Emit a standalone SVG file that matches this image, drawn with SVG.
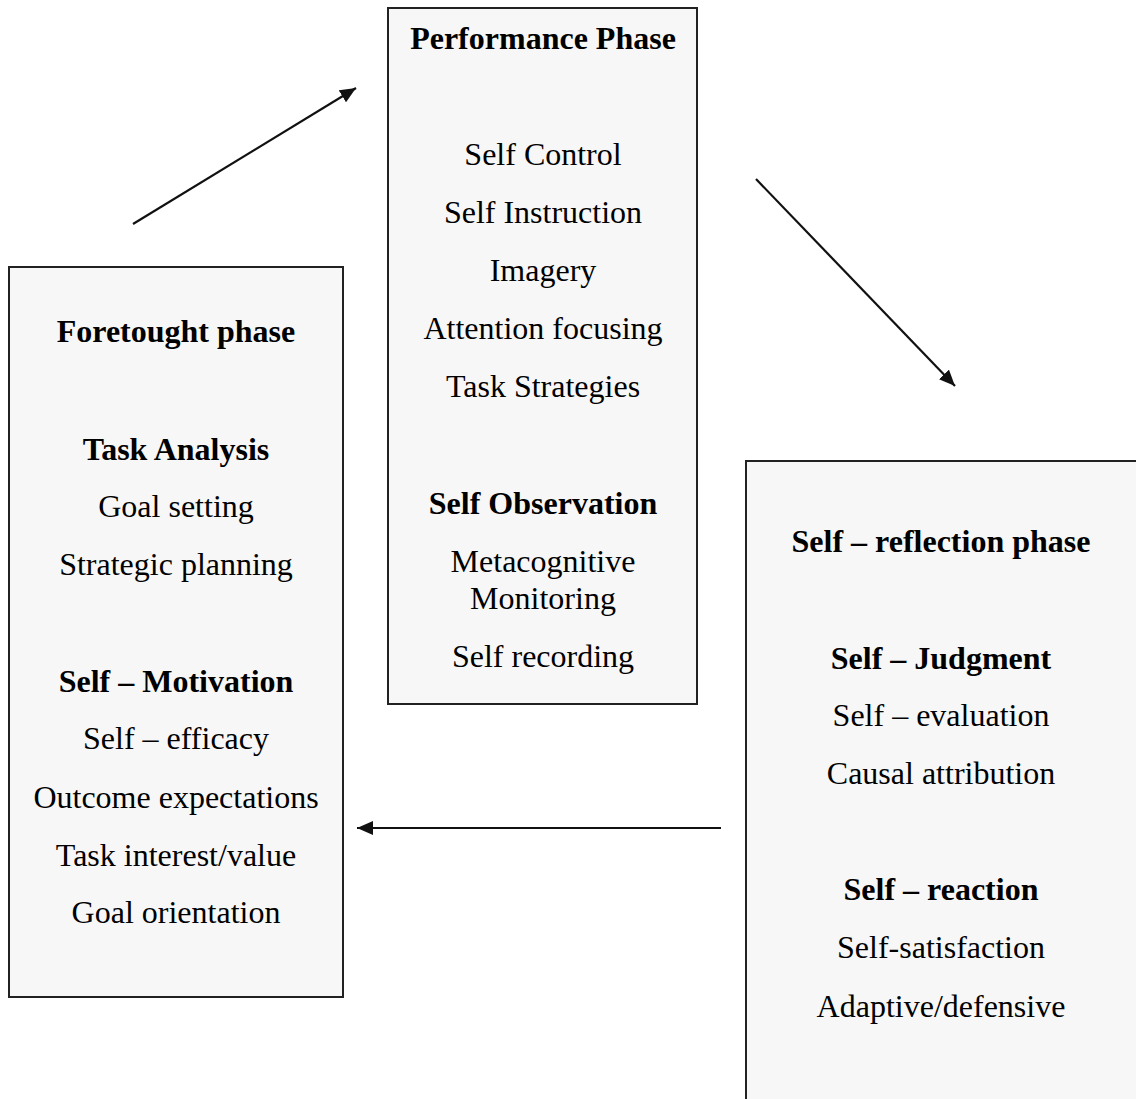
<svg xmlns="http://www.w3.org/2000/svg" width="1136" height="1099" viewBox="0 0 1136 1099">
<defs>
<style>
.box{fill:#f7f7f7;stroke:#222;stroke-width:2}
text{font-family:"Liberation Serif","Times New Roman",serif;font-size:32px;fill:#000;text-anchor:middle}
.b{font-weight:bold}
.conn{stroke:#111;stroke-width:2.2;fill:none;marker-end:url(#ah)}
</style>
<marker id="ah" viewBox="0 0 16 14" refX="16" refY="7" markerWidth="16" markerHeight="14" markerUnits="userSpaceOnUse" orient="auto">
<path d="M0,0 L16,7 L0,14 Z" fill="#111"/>
</marker>
</defs>
<rect width="1136" height="1099" fill="#fff"/>
<g id="performance">
<rect class="box" x="388" y="8" width="309" height="696"/>
<text class="b" x="543" y="49">Performance Phase</text>
<text x="543" y="165">Self Control</text>
<text x="543" y="223">Self Instruction</text>
<text x="543" y="281">Imagery</text>
<text x="543" y="339">Attention focusing</text>
<text x="543" y="397">Task Strategies</text>
<text class="b" x="543" y="514">Self Observation</text>
<text x="543" y="572">Metacognitive</text>
<text x="543" y="609">Monitoring</text>
<text x="543" y="667">Self recording</text>
</g>
<g id="forethought">
<rect class="box" x="9" y="267" width="334" height="730"/>
<text class="b" x="176" y="342">Foretought phase</text>
<text class="b" x="176" y="460">Task Analysis</text>
<text x="176" y="517">Goal setting</text>
<text x="176" y="575">Strategic planning</text>
<text class="b" x="176" y="692">Self – Motivation</text>
<text x="176" y="749">Self – efficacy</text>
<text x="176" y="808">Outcome expectations</text>
<text x="176" y="866">Task interest/value</text>
<text x="176" y="923">Goal orientation</text>
</g>
<g id="reflection">
<rect class="box" x="746" y="461" width="400" height="660"/>
<text class="b" x="941" y="552">Self – reflection phase</text>
<text class="b" x="941" y="669">Self – Judgment</text>
<text x="941" y="726">Self – evaluation</text>
<text x="941" y="784">Causal attribution</text>
<text class="b" x="941" y="900">Self – reaction</text>
<text x="941" y="958">Self-satisfaction</text>
<text x="941" y="1017">Adaptive/defensive</text>
</g>
<g id="connectors">
<line class="conn" x1="133" y1="224" x2="356" y2="88"/>
<line class="conn" x1="756" y1="179" x2="955" y2="386"/>
<line class="conn" x1="721" y1="828" x2="357" y2="828"/>
</g>
</svg>
